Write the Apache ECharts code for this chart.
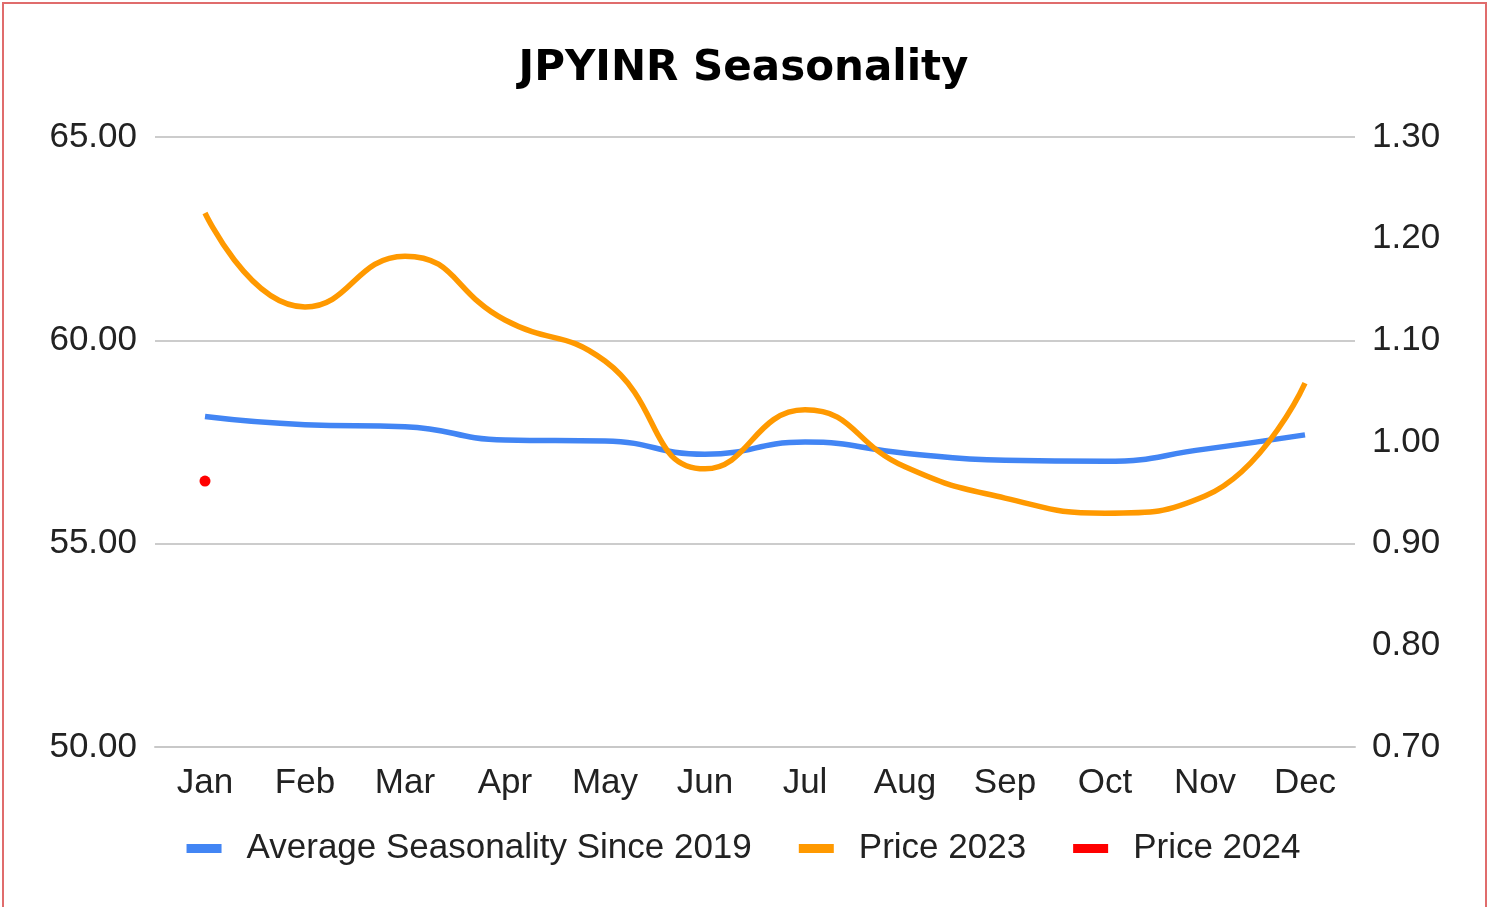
<!DOCTYPE html>
<html>
<head>
<meta charset="utf-8">
<title>JPYINR Seasonality</title>
<script src="https://cdn.jsdelivr.net/npm/echarts@6/dist/echarts.min.js"></script>
<style>
  html, body { margin: 0; padding: 0; background: #fff; }
  #frame {
    position: absolute; left: 2px; top: 2px; width: 1481px; height: 905px;
    border-top: 2px solid #e06c6c; border-left: 2px solid #e06c6c; border-right: 2px solid #e06c6c;
  }
  #chart { position: absolute; left: 0; top: 0; width: 1487px; height: 907px; }
</style>
</head>
<body>
<div id="frame"></div>
<div id="chart"></div>
<script>
// months on the x axis
const months = ["Jan", "Feb", "Mar", "Apr", "May", "Jun", "Jul", "Aug", "Sep", "Oct", "Nov", "Dec"];
// average seasonality since 2019 (right axis)
const avgSeasonality = [1.025, 1.017, 1.015, 1.002, 1.001, 0.988, 1.000, 0.989, 0.982, 0.981, 0.993, 1.007];
// price 2023 (left axis, INR per 100 JPY)
const price2023 = [63.13, 60.82, 62.07, 60.50, 59.49, 56.84, 58.29, 56.89, 56.12, 55.75, 56.17, 58.95];
// price 2024, only January so far
const price2024 = [56.54, null, null, null, null, null, null, null, null, null, null, null];

const FONT = "'Liberation Sans', Arial, sans-serif";

const chart = echarts.init(document.getElementById("chart"), null, { renderer: "canvas" });
chart.setOption({
  backgroundColor: "transparent",
  animation: false,
  title: {
    text: "JPYINR Seasonality",
    left: "center",
    top: 43,
    textStyle: {
      fontFamily: "'DejaVu Sans', Verdana, sans-serif",
      fontWeight: "bold",
      fontSize: 42,
      color: "#000"
    }
  },
  legend: {
    data: ["Average Seasonality Since 2019", "Price 2023", "Price 2024"],
    left: "center",
    top: 826,
    icon: "rect",
    itemWidth: 35,
    itemHeight: 9,
    itemGap: 47,
    textStyle: {
      fontFamily: FONT,
      fontSize: 35,
      color: "#222",
      padding: [0, 0, 0, 20]
    }
  },
  grid: {
    left: 155,
    right: 132,
    top: 137,
    bottom: 160,
    containLabel: false
  },
  xAxis: {
    type: "category",
    boundaryGap: true,
    data: months,
    axisLine: { show: true, lineStyle: { color: "#c8c8c8", width: 2 } },
    axisTick: { show: false },
    axisLabel: {
      margin: 19,
      fontFamily: FONT,
      fontSize: 35,
      color: "#222"
    }
  },
  yAxis: [
    {
      type: "value",
      min: 50,
      max: 65,
      interval: 5,
      axisLine: { show: false },
      axisTick: { show: false },
      splitLine: { show: true, lineStyle: { color: "#cccccc", width: 2 } },
      axisLabel: {
        margin: 18,
        fontFamily: FONT,
        fontSize: 35,
        color: "#222",
        formatter: v => v.toFixed(2)
      }
    },
    {
      type: "value",
      min: 0.7,
      max: 1.3,
      interval: 0.1,
      position: "right",
      axisLine: { show: false },
      axisTick: { show: false },
      splitLine: { show: false },
      axisLabel: {
        margin: 17,
        fontFamily: FONT,
        fontSize: 35,
        color: "#222",
        formatter: v => v.toFixed(2)
      }
    }
  ],
  series: [
    {
      name: "Average Seasonality Since 2019",
      type: "line",
      yAxisIndex: 1,
      data: avgSeasonality,
      smooth: 0.5,
      showSymbol: false,
      color: "#4285f4",
      lineStyle: { width: 5.5 },
      z: 2
    },
    {
      name: "Price 2023",
      type: "line",
      yAxisIndex: 0,
      data: price2023,
      smooth: 0.5,
      showSymbol: false,
      color: "#ff9900",
      lineStyle: { width: 5.5 },
      z: 3
    },
    {
      name: "Price 2024",
      type: "line",
      yAxisIndex: 0,
      data: price2024,
      showSymbol: true,
      symbol: "circle",
      symbolSize: 11,
      color: "#ff0000",
      itemStyle: { color: "#ff0000", borderWidth: 0 },
      lineStyle: { width: 5 },
      z: 4
    }
  ]
});
</script>
</body>
</html>
